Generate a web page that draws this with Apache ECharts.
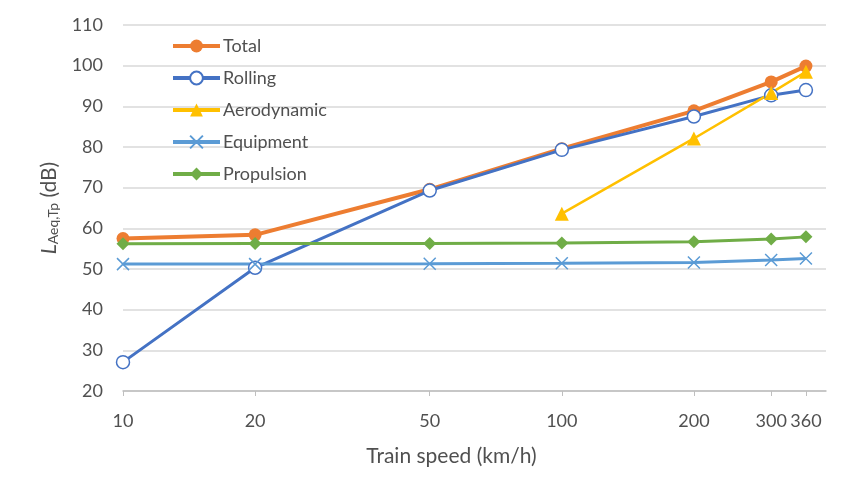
<!DOCTYPE html>
<html>
<head>
<meta charset="utf-8">
<script src="https://cdn.jsdelivr.net/npm/echarts@6/dist/echarts.min.js"></script>
<style>html,body{margin:0;padding:0;background:#fff}#c{width:846px;height:480px}</style>
</head>
<body>
<div id="c"></div>
<script>
var speeds = [10, 20, 50, 100, 200, 300, 360];
var tickValues = [10, 20, 50, 100, 200, 300, 360];
var total = [57.5, 58.4, 69.6, 79.6, 88.9, 96.0, 99.9];
var rolling = [27.1, 50.3, 69.3, 79.3, 87.5, 92.7, 94.0];
var aeroSpeeds = [100, 200, 300, 360];
var aerodynamic = [63.6, 82.1, 93.3, 98.5];
var equipment = [51.2, 51.2, 51.3, 51.4, 51.6, 52.2, 52.6];
var propulsion = [56.2, 56.3, 56.3, 56.4, 56.7, 57.4, 57.9];
var seriesNames = ['Total', 'Rolling', 'Aerodynamic', 'Equipment', 'Propulsion'];

function pairs(xs, ys) { return xs.map(function (x, i) { return [x, ys[i]]; }); }

var FONT = 'Lato';
var TXT = '#505050';
var chart = echarts.init(document.getElementById('c'));
chart.setOption({
  animation: false,
  textStyle: { fontFamily: FONT },
  grid: { left: 123, right: 20, top: 25, bottom: 89 },
  legend: {
    orient: 'vertical', left: 166, top: 32,
    itemWidth: 47, itemHeight: 16, itemGap: 14,
    textStyle: { fontSize: 18, color: TXT, fontFamily: FONT, padding: [0, 0, 0, -2] },
    lineStyle: { width: 4 },
    data: seriesNames
  },
  xAxis: {
    type: 'log', logBase: 10, min: 10, max: 400,
    name: 'Train speed (km/h)', nameLocation: 'middle', nameGap: 55,
    nameTextStyle: { fontSize: 21, color: TXT, fontFamily: FONT, padding: [0, 46, 0, 0] },
    axisLine: { show: true, lineStyle: { color: '#BFBFBF', width: 1.5 } },
    axisTick: { show: true, length: 5, lineStyle: { color: '#BFBFBF' }, customValues: tickValues },
    axisLabel: { fontSize: 18, color: TXT, margin: 21, customValues: tickValues },
    minorTick: { show: false },
    splitLine: { show: false },
    minorSplitLine: { show: false }
  },
  yAxis: {
    type: 'value', min: 20, max: 110, interval: 10,
    name: '{i|L}{sub|Aeq,Tp}{n| (dB)}', nameLocation: 'middle', nameGap: 61, nameRotate: 90,
    nameTextStyle: {
      color: TXT,
      rich: {
        i: { fontSize: 21, fontStyle: 'italic', color: TXT, fontFamily: FONT },
        sub: { fontSize: 14, color: TXT, fontFamily: FONT, verticalAlign: 'bottom', padding: [10, 0, 0, 0] },
        n: { fontSize: 21, color: TXT, fontFamily: FONT }
      }
    },
    axisLine: { show: false },
    axisTick: { show: false },
    axisLabel: { fontSize: 18, color: TXT, margin: 20 },
    splitLine: { lineStyle: { color: '#D9D9D9', width: 1.5 } }
  },
  series: [
    {
      name: 'Total', type: 'line', data: pairs(speeds, total),
      symbol: 'circle', symbolSize: 13,
      lineStyle: { color: '#ED7D31', width: 4 },
      itemStyle: { color: '#ED7D31' }
    },
    {
      name: 'Rolling', type: 'line', data: pairs(speeds, rolling),
      symbol: 'circle', symbolSize: 13,
      lineStyle: { color: '#4472C4', width: 3 },
      itemStyle: { color: '#fff', borderColor: '#4472C4', borderWidth: 1.5 }
    },
    {
      name: 'Aerodynamic', type: 'line', data: pairs(aeroSpeeds, aerodynamic),
      symbol: 'triangle', symbolSize: 14,
      lineStyle: { color: '#FFC000', width: 2.5 },
      itemStyle: { color: '#FFC000' }
    },
    {
      name: 'Equipment', type: 'line', data: pairs(speeds, equipment),
      symbol: 'path://M0,0L10,10M10,0L0,10', symbolSize: 12,
      lineStyle: { color: '#5B9BD5', width: 3 },
      itemStyle: { color: '#5B9BD5', borderColor: '#5B9BD5', borderWidth: 1.5 }
    },
    {
      name: 'Propulsion', type: 'line', data: pairs(speeds, propulsion),
      symbol: 'diamond', symbolSize: 13,
      lineStyle: { color: '#70AD47', width: 3 },
      itemStyle: { color: '#70AD47' }
    }
  ]
});
</script>
</body>
</html>
